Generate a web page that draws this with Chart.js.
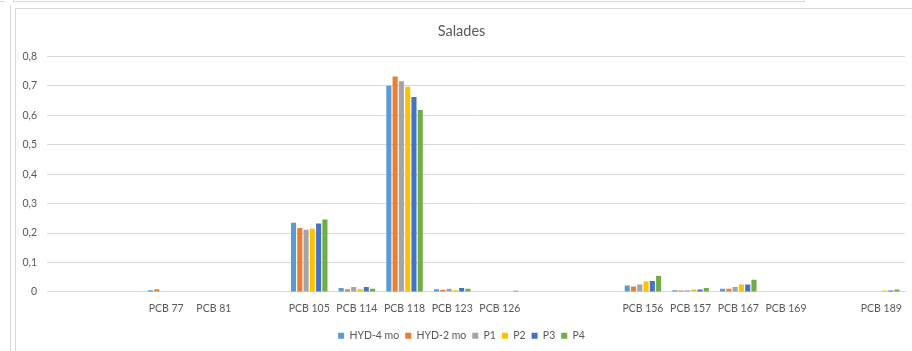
<!DOCTYPE html>
<html>
<head>
<meta charset="utf-8">
<script src="https://cdn.jsdelivr.net/npm/chart.js@4"></script>
<style>
  body { margin: 0; background: #fff; }
  .frame-top { position: absolute; left: 13px; top: -4px; width: 790px; height: 5px; border: 1px solid #d9d9d9; border-top: none; }
  .frame-stub { position: absolute; left: 0; top: 1px; width: 4px; height: 0; border-top: 1px solid #d9d9d9; }
  .frame-left { position: absolute; left: 10px; top: 5px; width: 0; height: 346px; border-left: 1px solid #d9d9d9; }
  .frame-chart { position: absolute; left: 15px; top: 8px; width: 900px; height: 350px; border-left: 1px solid #d9d9d9; border-top: 1px solid #d9d9d9; }
  #wrap { position: absolute; left: 17px; top: 10px; width: 895px; height: 341px; }
</style>
</head>
<body>
<div class="frame-top"></div>
<div class="frame-stub"></div>
<div class="frame-left"></div>
<div class="frame-chart"></div>
<div id="wrap"><canvas id="canva_bar"></canvas></div>
<script>
// congeners along the x axis (empty slots kept as blank categories)
var categorias = ['', '', 'PCB 77', 'PCB 81', '', 'PCB 105', 'PCB 114', 'PCB 118', 'PCB 123', 'PCB 126', '', '', 'PCB 156', 'PCB 157', 'PCB 167', 'PCB 169', '', 'PCB 189'];

var hyd4 = [0, 0, 0.006, 0, 0, 0.235, 0.0136, 0.700, 0.009, 0, 0, 0, 0.0215, 0.006, 0.011, 0, 0, 0];
var hyd2 = [0, 0, 0.009, 0, 0, 0.217, 0.009, 0.732, 0.007, 0, 0, 0, 0.018, 0.0045, 0.011, 0, 0, 0];
var p1 = [0, 0, 0, 0, 0, 0.211, 0.017, 0.716, 0.011, 0, 0, 0, 0.025, 0.006, 0.017, 0, 0, 0];
var p2 = [0, 0, 0, 0, 0, 0.2146, 0.009, 0.697, 0.006, 0, 0, 0, 0.035, 0.008, 0.025, 0, 0, 0.0045];
var p3 = [0, 0, 0, 0, 0, 0.2326, 0.017, 0.662, 0.0136, 0, 0, 0, 0.037, 0.008, 0.025, 0, 0, 0.0045];
var p4 = [0, 0, 0, 0, 0, 0.246, 0.011, 0.618, 0.011, 0.004, 0, 0, 0.054, 0.0136, 0.041, 0, 0, 0.008];

var series = ['HYD-4 mo', 'HYD-2 mo', 'P1', 'P2', 'P3', 'P4'];
var colores = ['#5B9BD5', '#ED7D31', '#A5A5A5', '#FFC000', '#4472C4', '#70AD47'];
var valores = [hyd4, hyd2, p1, p2, p3, p4];

var ticksY = [0, 0.1, 0.2, 0.3, 0.4, 0.5, 0.6, 0.7, 0.8];

var fuente = 'Lato, "Open Sans", sans-serif';
var gris = '#595959';

graficar();
function graficar() {
    var datasets = series.map(function (nombre, i) {
        return {
            label: nombre,
            data: valores[i],
            backgroundColor: colores[i],
            borderWidth: 0,
            categoryPercentage: 0.79,
            barPercentage: 0.81
        };
    });

    var ctx = document.getElementById('canva_bar').getContext('2d');
    var myChartBar = new Chart(ctx, {
        type: 'bar',
        data: {
            labels: categorias,
            datasets: datasets
        },
        options: {
            responsive: true,
            maintainAspectRatio: false,
            animation: false,
            layout: {
                padding: { left: 0, right: 6, top: 3, bottom: 0 }
            },
            plugins: {
                title: {
                    display: true,
                    text: 'Salades',
                    color: gris,
                    font: { family: fuente, size: 14.5, weight: 'normal' },
                    padding: { top: 10, bottom: 16 }
                },
                legend: {
                    position: 'bottom',
                    labels: {
                        color: gris,
                        font: { family: fuente, size: 10.5 },
                        boxWidth: 6,
                        boxHeight: 6,
                        padding: 6
                    }
                },
                tooltip: { enabled: false }
            },
            scales: {
                x: {
                    grid: { display: false, drawTicks: false },
                    border: { color: '#d9d9d9' },
                    ticks: {
                        color: gris,
                        font: { family: fuente, size: 10.5 },
                        padding: 10,
                        autoSkip: false,
                        maxRotation: 0
                    }
                },
                y: {
                    min: 0,
                    max: 0.8,
                    afterBuildTicks: function (eje) {
                        eje.ticks = ticksY.map(function (v) { return { value: v }; });
                    },
                    afterFit: function (eje) {
                        eje.width = 30;
                    },
                    grid: { color: '#d9d9d9', drawTicks: false },
                    border: { display: false },
                    ticks: {
                        color: gris,
                        font: { family: fuente, size: 10.5 },
                        padding: 10,
                        callback: function (v) {
                            return v === 0 ? '0' : v.toFixed(1).replace('.', ',');
                        }
                    }
                }
            }
        }
    });
}
</script>
</body>
</html>
